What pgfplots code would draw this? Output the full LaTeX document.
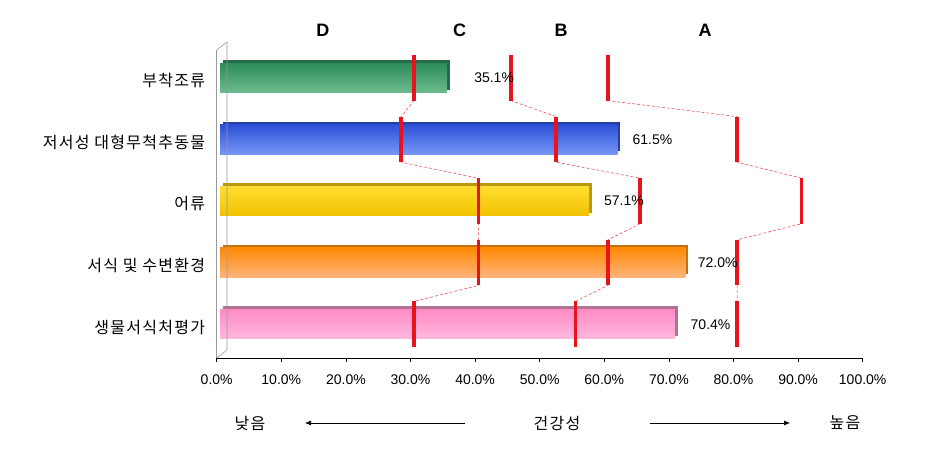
\documentclass[border=0pt]{standalone}
\usepackage{pgfplots}
\pgfplotsset{compat=1.18}
\usepackage{fontspec}
\setmainfont{Liberation Sans}
\newfontfamily\kr[LetterSpace=8]{Noto Sans CJK KR}
\usetikzlibrary{arrows.meta}

\definecolor{gTop}{HTML}{2E8B5A}
\definecolor{gBot}{HTML}{6DBB8F}
\definecolor{gDk}{HTML}{256B47}
\definecolor{bTop}{HTML}{2D50D8}
\definecolor{bBot}{HTML}{7696F5}
\definecolor{bDk}{HTML}{2740A0}
\definecolor{yTop}{HTML}{FFDD30}
\definecolor{yBot}{HTML}{F2C200}
\definecolor{yDk}{HTML}{B8980E}
\definecolor{oTop}{HTML}{FF8A05}
\definecolor{oBot}{HTML}{FFB47C}
\definecolor{oDk}{HTML}{C27212}
\definecolor{pTop}{HTML}{FF8CC6}
\definecolor{pBot}{HTML}{FFB8DF}
\definecolor{pDk}{HTML}{B07292}
\definecolor{mk}{HTML}{E8131B}

\begin{document}
\begin{tikzpicture}
\path[use as bounding box] (0,0) rectangle (935pt,471pt);
\begin{axis}[
  at={(216.7pt,113pt)}, anchor=south west,
  scale only axis, width=646pt, height=308pt,
  xmin=0, xmax=100, ymin=-0.5, ymax=4.5, y dir=reverse,
  enlarge x limits=false, enlarge y limits=false,
  clip=false,
  axis lines*=left,
  x axis line style={black, line width=0.9pt},
  y axis line style={gray!80},
  tick align=outside,
  xtick={0,10,...,100},
  xticklabel={\pgfmathprintnumber[fixed,fixed zerofill,precision=1,assume math mode=true]{\tick}\%},
  xticklabel style={font=\fontsize{14}{16}\selectfont, yshift=-9pt},
  xtick style={black, line width=0.6pt},
  major tick length=4pt,
  ytick={0,1,2,3,4},
  yticklabels={부착조류, 저서성 대형무척추동물, 어류, 서식 및 수변환경, 생물서식처평가},
  yticklabel style={font=\kr\fontsize{16}{19}\selectfont, xshift=-4pt},
  ytick style={draw=none},
  minor ytick={-0.5,0.5,1.5,2.5,3.5,4.5},
  minor y tick style={gray!80, line width=0.6pt},
  minor tick length=5pt,
  /pgf/number format/assume math mode=true,
  every axis plot/.append style={xshift=3.5pt, yshift=3pt},
  xbar, bar width=0.48, bar shift=0pt,
]
% 3D depth of the bars
\addplot[xbar, draw=none, fill=gDk, xshift=3pt, yshift=3pt] coordinates {(35.1,0)};
\addplot[xbar, draw=none, fill=bDk, xshift=3pt, yshift=3pt] coordinates {(61.5,1)};
\addplot[xbar, draw=none, fill=yDk, xshift=3pt, yshift=3pt] coordinates {(57.1,2)};
\addplot[xbar, draw=none, fill=oDk, xshift=3pt, yshift=3pt] coordinates {(72.0,3)};
\addplot[xbar, draw=none, fill=pDk, xshift=3pt, yshift=3pt] coordinates {(70.4,4)};
% front faces
\addplot[xbar, draw=none, top color=gTop, bottom color=gBot] coordinates {(35.1,0)};
\addplot[xbar, draw=none, top color=bTop, bottom color=bBot] coordinates {(61.5,1)};
\addplot[xbar, draw=none, top color=yTop, bottom color=yBot] coordinates {(57.1,2)};
\addplot[xbar, draw=none, top color=oTop, bottom color=oBot] coordinates {(72.0,3)};
\addplot[xbar, draw=none, top color=pTop, bottom color=pBot] coordinates {(70.4,4)};

% value labels
\addplot[sharp plot, draw=none, mark=none, nodes near coords, point meta=explicit symbolic,
  every node near coord/.style={anchor=west, inner sep=0pt, font=\fontsize{14}{16}\selectfont}]
  coordinates {(39.3,0) [35.1\%] (63.8,1) [61.5\%] (59.4,2) [57.1\%] (73.9,3) [72.0\%] (72.8,4) [70.4\%]};

% grade boundaries: D/C, C/B, B/A
\addplot[sharp plot, mk!85, densely dashed, line width=0.5pt] coordinates {
  (30,-0.37) (30,0.37) (28,0.63) (28,1.37) (40,1.63) (40,2.37) (40,2.63) (40,3.37) (30,3.63) (30,4.37)};
\addplot[sharp plot, mk!85, densely dashed, line width=0.5pt] coordinates {
  (45,-0.37) (45,0.37) (52,0.63) (52,1.37) (65,1.63) (65,2.37) (60,2.63) (60,3.37) (55,3.63) (55,4.37)};
\addplot[sharp plot, mk!85, densely dashed, line width=0.5pt] coordinates {
  (60,-0.37) (60,0.37) (80,0.63) (80,1.37) (90,1.63) (90,2.37) (80,2.63) (80,3.37) (80,3.63) (80,4.37)};
\addplot[sharp plot, mk, line width=3.5pt, unbounded coords=jump] coordinates {
  (30,-0.37) (30,0.37) (nan,nan) (28,0.63) (28,1.37) (nan,nan) (40,1.63) (40,2.37) (nan,nan)
  (40,2.63) (40,3.37) (nan,nan) (30,3.63) (30,4.37)};
\addplot[sharp plot, mk, line width=3.5pt, unbounded coords=jump] coordinates {
  (45,-0.37) (45,0.37) (nan,nan) (52,0.63) (52,1.37) (nan,nan) (65,1.63) (65,2.37) (nan,nan)
  (60,2.63) (60,3.37) (nan,nan) (55,3.63) (55,4.37)};
\addplot[sharp plot, mk, line width=3.5pt, unbounded coords=jump] coordinates {
  (60,-0.37) (60,0.37) (nan,nan) (80,0.63) (80,1.37) (nan,nan) (90,1.63) (90,2.37) (nan,nan)
  (80,2.63) (80,3.37) (nan,nan) (80,3.63) (80,4.37)};

\node[font=\bfseries\fontsize{18}{20}\selectfont] at (axis cs:16.45,-0.825) {D};
\node[font=\bfseries\fontsize{18}{20}\selectfont] at (axis cs:37.6,-0.825) {C};
\node[font=\bfseries\fontsize{18}{20}\selectfont] at (axis cs:53.3,-0.825) {B};
\node[font=\bfseries\fontsize{18}{20}\selectfont] at (axis cs:75.6,-0.825) {A};
\end{axis}
% 3D wall at the left
\draw[gray!80, line width=0.6pt] (216.7pt,421pt) -- (227pt,429pt) -- (227pt,121pt) -- (216.7pt,113pt);
% bottom caption
\node[font=\kr\fontsize{16}{19}\selectfont] at (250pt,48pt) {낮음};
\draw[-{Latex[length=6pt,width=5pt]}, line width=0.6pt] (465pt,48pt) -- (305pt,48pt);
\node[font=\kr\fontsize{16}{19}\selectfont] at (557pt,48pt) {건강성};
\draw[-{Latex[length=6pt,width=5pt]}, line width=0.6pt] (650pt,48pt) -- (790pt,48pt);
\node[font=\kr\fontsize{16}{19}\selectfont] at (845pt,48pt) {높음};
\end{tikzpicture}
\end{document}
